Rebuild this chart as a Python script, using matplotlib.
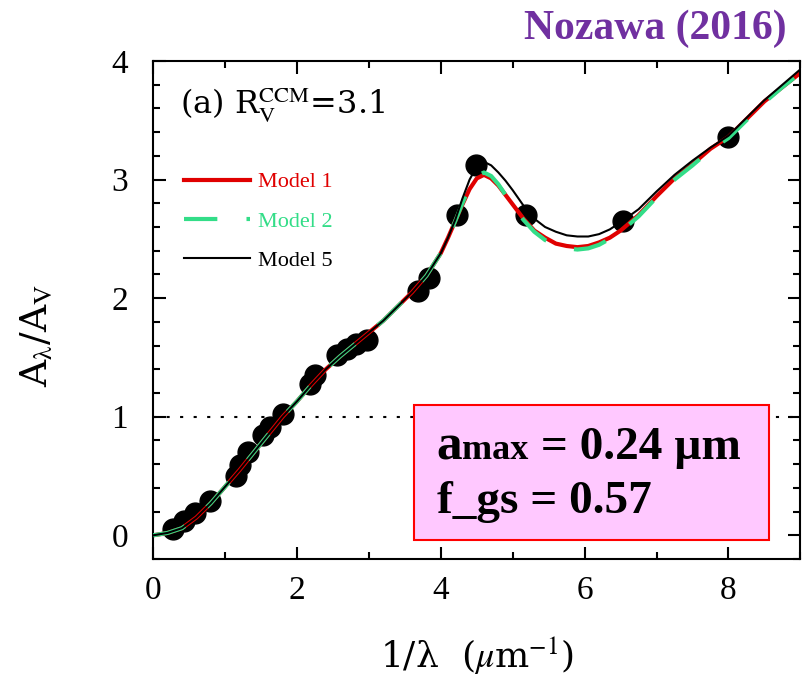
import matplotlib
matplotlib.use("Agg")
import matplotlib.pyplot as plt
from matplotlib.patches import Rectangle
from matplotlib.offsetbox import TextArea, HPacker, VPacker, AnnotationBbox
from matplotlib.ticker import MultipleLocator

plt.rcParams['font.family'] = ['Liberation Serif', 'DejaVu Serif']
plt.rcParams['mathtext.fontset'] = 'stix'

# observed extinction points (CCM, R_V = 3.1)
obs_x = [0.28, 0.43, 0.58, 0.79, 1.15, 1.21, 1.32, 1.53, 1.62, 1.8, 2.18, 2.25,
         2.55, 2.7, 2.82, 2.98, 3.68, 3.84, 4.23, 4.49, 5.19, 6.53, 8.0]
obs_y = [0.05, 0.12, 0.19, 0.29, 0.50, 0.59, 0.70, 0.85, 0.91, 1.02, 1.28, 1.35,
         1.52, 1.57, 1.61, 1.65, 2.06, 2.17, 2.70, 3.12, 2.70, 2.65, 3.36]

# model curves
inv_lam = [0, 0.2, 0.4, 0.6, 0.8, 1.0, 1.2, 1.4, 1.6, 1.8, 2.0, 2.2, 2.4, 2.6,
           2.8, 3.0, 3.2, 3.4, 3.6, 3.8, 4.0, 4.1, 4.2, 4.3, 4.4, 4.5, 4.6,
           4.7, 4.8, 4.9, 5.0, 5.15, 5.3, 5.45, 5.6, 5.75, 5.9, 6.05, 6.2,
           6.35, 6.5, 6.75, 7.0, 7.25, 7.5, 7.75, 8.0, 8.25, 8.5, 8.75, 9.0]
model1 = [0.0, 0.02, 0.06, 0.15, 0.27, 0.41, 0.55, 0.70, 0.85, 1.00, 1.13, 1.27,
          1.40, 1.51, 1.61, 1.71, 1.81, 1.93, 2.05, 2.19, 2.38, 2.51, 2.65, 2.79,
          2.92, 3.01, 3.04, 3.01, 2.95, 2.87, 2.79, 2.67, 2.57, 2.51, 2.46, 2.44,
          2.43, 2.44, 2.47, 2.51, 2.57, 2.70, 2.86, 3.01, 3.13, 3.26, 3.36, 3.51,
          3.66, 3.78, 3.90]
model2 = [0.0, 0.02, 0.06, 0.15, 0.27, 0.41, 0.55, 0.70, 0.85, 1.00, 1.13, 1.27,
          1.40, 1.51, 1.61, 1.71, 1.81, 1.93, 2.05, 2.19, 2.38, 2.51, 2.65, 2.80,
          2.94, 3.03, 3.06, 3.03, 2.96, 2.87, 2.78, 2.66, 2.56, 2.49, 2.45, 2.42,
          2.41, 2.42, 2.45, 2.50, 2.56, 2.69, 2.85, 3.00, 3.12, 3.25, 3.35, 3.50,
          3.65, 3.78, 3.90]
model5 = [0.0, 0.02, 0.06, 0.15, 0.27, 0.41, 0.55, 0.70, 0.85, 1.00, 1.13, 1.27,
          1.40, 1.51, 1.61, 1.71, 1.81, 1.93, 2.05, 2.19, 2.38, 2.51, 2.66, 2.84,
          3.00, 3.11, 3.15, 3.12, 3.06, 2.99, 2.91, 2.78, 2.67, 2.60, 2.56, 2.53,
          2.52, 2.52, 2.54, 2.58, 2.64, 2.75, 2.90, 3.04, 3.16, 3.27, 3.37, 3.52,
          3.67, 3.80, 3.93]

fig = plt.figure(figsize=(8.02, 6.78), dpi=100)
ax = fig.add_axes([0.191, 0.1755, 0.807, 0.7345])

ax.axhline(1, color='black', lw=1.5, ls=(0, (1.5, 5)), zorder=1)
ax.plot(inv_lam, model1, color='#e00000', lw=3, label='Model 1', zorder=2)
ax.plot(inv_lam, model2, color='#33dd88', lw=3, ls=(0, (8, 7)), label='Model 2', zorder=3)
ax.plot(inv_lam, model5, color='black', lw=1.5, label='Model 5', zorder=4)
ax.plot(obs_x, obs_y, 'o', color='black', ms=15, zorder=1.5)

ax.set_xlim(0, 9)
ax.set_ylim(-0.2, 4)
ax.xaxis.set_major_locator(MultipleLocator(2))
ax.xaxis.set_minor_locator(MultipleLocator(1))
ax.yaxis.set_major_locator(MultipleLocator(1))
ax.yaxis.set_minor_locator(MultipleLocator(0.2))
ax.tick_params(which='both', direction='in', top=True, right=True, width=1.5, labelsize=24)
ax.tick_params(which='major', length=9)
ax.tick_params(which='minor', length=5)
ax.tick_params(axis='x', pad=12)
ax.tick_params(axis='y', pad=18)
for s in ax.spines.values():
    s.set_linewidth(1.5)

ax.set_xlabel(r'1/λ  ($\mu$m$^{-1}$)', fontsize=26, labelpad=20, family='DejaVu Serif')
ax.set_ylabel(r'A$_{\mathrm{\lambda}}$/A$_{\mathrm{V}}$', fontsize=27,
              family='DejaVu Serif')
ax.yaxis.set_label_coords(-0.15, 0.45)

ax.text(0.042, 0.895, r'(a) R$_{\mathrm{V}}^{\mathrm{CCM}}$=3.1', transform=ax.transAxes,
        fontsize=23, va='baseline', family='DejaVu Serif')

ax.legend(loc='upper left', bbox_to_anchor=(0.03, 0.80), frameon=False, fontsize=16,
          handlelength=3.0, handletextpad=0.35, labelspacing=0.85, borderpad=0,
          labelcolor='linecolor')

# parameter box
ax.add_patch(Rectangle((3.63, -0.04), 4.93, 1.14, facecolor='#ffc8ff', edgecolor='#ff0000',
                       lw=1.5, zorder=5))
bold = dict(fontweight='bold', color='black')
line1 = HPacker(children=[TextArea('a', textprops=dict(fontsize=37, **bold)),
                          TextArea('max', textprops=dict(fontsize=26, **bold)),
                          TextArea(' = 0.24 µm', textprops=dict(fontsize=34, **bold))],
                align='baseline', pad=0, sep=0)
line2 = TextArea('f_gs = 0.57', textprops=dict(fontsize=34, **bold))
box = VPacker(children=[line1, line2], align='left', pad=0, sep=8)
ab = AnnotationBbox(box, (3.94, 0.1), xycoords='data', box_alignment=(0, 0),
                    frameon=False, zorder=6)
ax.add_artist(ab)

fig.text(0.981, 0.958, 'Nozawa (2016)', ha='right', va='center', fontsize=30,
         fontweight='bold', color='#7030a0')

fig.savefig('out.png', dpi=100)
